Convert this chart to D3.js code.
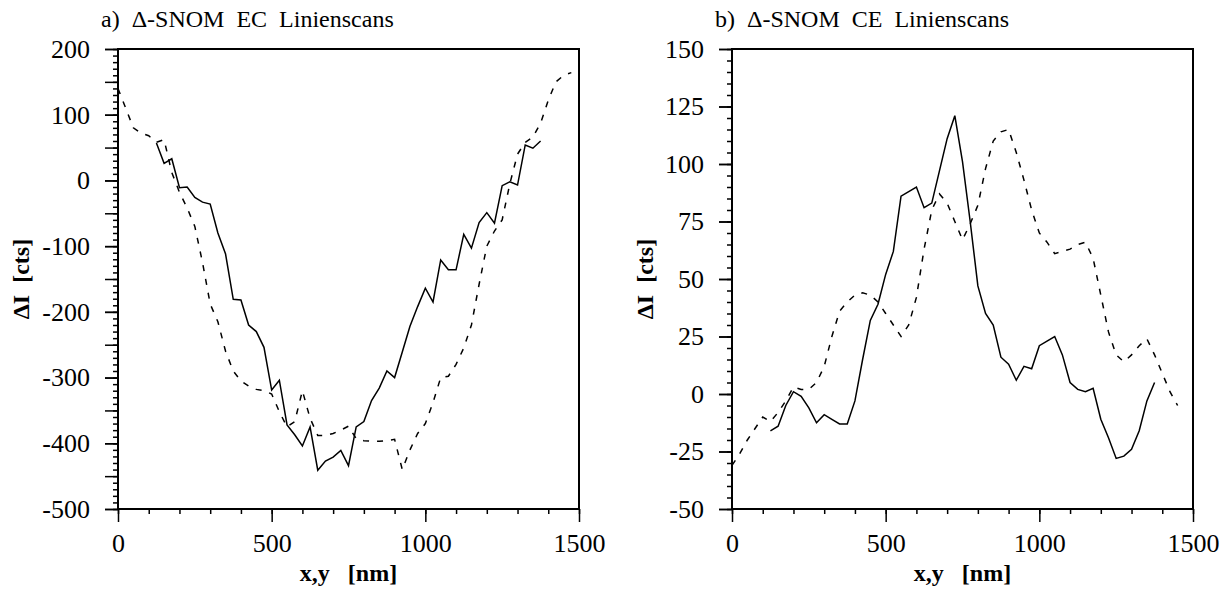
<!DOCTYPE html>
<html>
<head>
<meta charset="utf-8">
<script src="https://cdn.jsdelivr.net/npm/d3@7"></script>
<style>
  body { margin: 0; background: #fff; font-family: "Liberation Serif", serif; }
  #wrap { position: relative; width: 1231px; height: 596px; }
  svg { display: block; position: absolute; left: 0; top: 0; }
  svg text { font-family: "Liberation Serif", serif; }
  .title { position: absolute; top: 4px; font-size: 24px; line-height: 30px; white-space: pre; color: #000; }
</style>
</head>
<body>
<div id="wrap">
  <svg id="chart" width="1231" height="596" font-family="Liberation Serif"></svg>
  <div class="title" style="left:101px">a)  Δ-SNOM  EC  Linienscans</div>
  <div class="title" style="left:715px">b)  Δ-SNOM  CE  Linienscans</div>
</div>
<script>
// sample positions (nm)
const xSolid = [125, 150, 175, 200, 225, 250, 275, 300, 325, 350, 375, 400, 425, 450, 475, 500, 525,
  550, 575, 600, 625, 650, 675, 700, 725, 750, 775, 800, 825, 850, 875, 900, 925, 950, 975, 1000,
  1025, 1050, 1075, 1100, 1125, 1150, 1175, 1200, 1225, 1250, 1275, 1300, 1325, 1350, 1375];
const xDashEC = [0, 25, 50, 75, 100, 125, 150, 175, 200, 225, 250, 275, 300, 325, 350, 375, 400, 425,
  450, 475, 500, 525, 550, 575, 600, 625, 650, 675, 700, 725, 750, 775, 800, 825, 850, 875, 900, 925,
  950, 975, 1000, 1025, 1050, 1075, 1100, 1125, 1150, 1175, 1200, 1225, 1250, 1275, 1300, 1325, 1350,
  1375, 1400, 1425, 1450, 1475];
const xDashCE = [0, 25, 50, 75, 100, 125, 150, 175, 200, 225, 250, 275, 300, 325, 350, 375, 400, 425,
  450, 475, 500, 525, 550, 575, 600, 625, 650, 675, 700, 725, 750, 775, 800, 825, 850, 875, 900, 925,
  950, 975, 1000, 1025, 1050, 1075, 1100, 1125, 1150, 1175, 1200, 1225, 1250, 1275, 1300, 1325, 1350,
  1375, 1400, 1425, 1450];

// a) EC line scans (cts)
const ecSolid = [57, 26, 33, -11, -10, -26, -33, -36, -80, -112, -181, -182, -220, -230, -254, -319,
  -304, -372, -387, -404, -375, -441, -427, -421, -411, -434, -375, -367, -335, -316, -290, -300, -261,
  -222, -192, -164, -185, -121, -136, -136, -82, -103, -64, -49, -65, -8, -2, -7, 54, 49, 60];
const ecDashed = [140, 110, 80, 72, 68, 58, 62, 12, -18, -42, -70, -125, -188, -215, -260, -290, -305,
  -313, -318, -320, -325, -352, -375, -367, -320, -362, -388, -388, -385, -380, -374, -393, -396, -397,
  -397, -396, -394, -440, -410, -385, -370, -338, -300, -298, -280, -255, -220, -158, -100, -77, -60, -5,
  40, 58, 66, 87, 122, 150, 160, 164];

// b) CE line scans (cts)
const ceSolid = [-16, -14, -5, 1, -1, -6, -12.5, -9, -11, -13, -13, -3, 15, 32, 39, 52, 62, 86, 88, 90,
  81, 83, 97, 111, 121, 101, 75, 47, 35, 30, 16, 13, 6, 12, 11, 21, 23, 25, 17, 5, 2, 1, 2.5, -11, -19,
  -28, -27, -24, -16, -3, 5];
const ceDashed = [-31, -26, -20, -15, -10, -12, -8, -3, 3, 2, 2, 5, 12, 25, 36, 40, 43, 44, 43, 40, 35,
  30, 25, 30, 42, 63, 80, 87, 83, 75, 67, 74, 82, 98, 110, 114, 115, 105, 93, 80, 70, 66, 61, 62, 63, 65,
  66, 59, 43, 27, 17, 14, 17, 21, 24, 17, 9, 1, -5];

const xTickLabels = [0, 500, 1000, 1500];

const FONT = "Liberation Serif";
const svg = d3.select("#chart");

function panel({ left, yDomain, yLabelStep, yMajorStep, yMinorStep, solid, dashed, xDashed, labelX }) {
  const top = 49, bottom = 509, width = 461;
  const x = d3.scaleLinear().domain([0, 1500]).range([left, left + width]);
  const y = d3.scaleLinear().domain(yDomain).range([bottom, top]);
  const g = svg.append("g");

  const ticksFor = (step) => d3.range(yDomain[0], yDomain[1] + step / 2, step);
  const plain = (d) => String(d);

  // y axis: minor, major, labelled
  g.append("g").attr("transform", `translate(${left},0)`)
    .call(d3.axisLeft(y).tickValues(ticksFor(yMinorStep)).tickSize(5).tickFormat(""));
  g.append("g").attr("transform", `translate(${left},0)`)
    .call(d3.axisLeft(y).tickValues(ticksFor(yMajorStep)).tickSize(13).tickFormat(""));
  g.append("g").attr("transform", `translate(${left},0)`)
    .call(d3.axisLeft(y).tickValues(ticksFor(yLabelStep)).tickSize(13).tickPadding(15).tickFormat(plain));

  // x axis
  g.append("g").attr("transform", `translate(0,${bottom})`)
    .call(d3.axisBottom(x).tickValues(d3.range(0, 1501, 100)).tickSize(5).tickFormat(""));
  g.append("g").attr("transform", `translate(0,${bottom})`)
    .call(d3.axisBottom(x).tickValues(xTickLabels).tickSize(13).tickPadding(12).tickFormat(plain));

  g.selectAll("g").attr("font-family", FONT).attr("font-size", 26);
  g.selectAll(".domain").remove();
  g.selectAll(".tick line").attr("stroke", "#000").attr("stroke-width", 1.5);

  // frame
  g.append("rect")
    .attr("x", left).attr("y", top)
    .attr("width", width).attr("height", bottom - top)
    .attr("fill", "none").attr("stroke", "#000").attr("stroke-width", 2);

  const line = d3.line().x((d) => x(d[0])).y((d) => y(d[1]));

  g.append("path")
    .datum(xSolid.map((v, i) => [v, solid[i]]))
    .attr("d", line)
    .attr("fill", "none").attr("stroke", "#000").attr("stroke-width", 1.5);

  g.append("path")
    .datum(xDashed.map((v, i) => [v, dashed[i]]))
    .attr("d", line)
    .attr("fill", "none").attr("stroke", "#000").attr("stroke-width", 1.5)
    .attr("stroke-dasharray", "6,8");

  g.append("text")
    .attr("x", left + width / 2).attr("y", 581)
    .attr("text-anchor", "middle")
    .attr("font-family", FONT).attr("font-size", 24).attr("font-weight", "bold")
    .attr("xml:space", "preserve")
    .text("x,y   [nm]");

  g.append("text")
    .attr("transform", `translate(${labelX},${(top + bottom) / 2}) rotate(-90)`)
    .attr("text-anchor", "middle")
    .attr("font-family", FONT).attr("font-size", 24).attr("font-weight", "bold")
    .attr("xml:space", "preserve")
    .text("ΔI  [cts]");
}

panel({
  left: 118, labelX: 29,
  yDomain: [-500, 200], yLabelStep: 100, yMajorStep: 50, yMinorStep: 10,
  solid: ecSolid, dashed: ecDashed, xDashed: xDashEC
});

panel({
  left: 732, labelX: 653,
  yDomain: [-50, 150], yLabelStep: 25, yMajorStep: 25, yMinorStep: 5,
  solid: ceSolid, dashed: ceDashed, xDashed: xDashCE
});
</script>
</body>
</html>
